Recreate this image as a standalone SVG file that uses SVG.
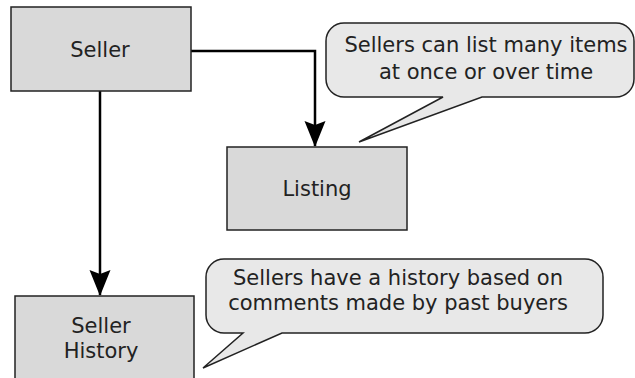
<svg xmlns="http://www.w3.org/2000/svg" width="635" height="378" viewBox="0 0 635 378">
<style>
.box{fill:#d9d9d9;stroke:#222;stroke-width:1.5}
.bubble{fill:#e8e8e8;stroke:#222;stroke-width:1.5;stroke-linejoin:miter}
.conn{fill:none;stroke:#000;stroke-width:2.5}
text{font-family:"DejaVu Sans",Verdana,sans-serif;font-size:21px;fill:#222;text-anchor:middle}
</style>
<defs>
<marker id="arr" viewBox="0 0 26 22" refX="25" refY="11" markerWidth="26" markerHeight="22" markerUnits="userSpaceOnUse" orient="auto">
<path d="M26,11 L0,0.5 L4,11 L0,21.5 Z" fill="#000"/>
</marker>
</defs>
<rect width="635" height="378" fill="#fff"/>
<g id="connectors">
<path class="conn" d="M191,51 H315 V146" marker-end="url(#arr)"/>
<path class="conn" d="M100,91 V295" marker-end="url(#arr)"/>
</g>
<g id="seller">
<rect class="box" x="11" y="7" width="180" height="84"/>
<text x="100" y="57">Seller</text>
</g>
<g id="listing">
<rect class="box" x="227" y="147" width="180" height="83"/>
<text x="317" y="196">Listing</text>
</g>
<g id="seller-history">
<rect class="box" x="15" y="296" width="179" height="90"/>
<text x="101" y="333">Seller</text>
<text x="101" y="358">History</text>
</g>
<g id="note-listing">
<path class="bubble" d="M344,23 H616 A18 18 0 0 1 634 41 V79 A18 18 0 0 1 616 97 H482 L359 142 L443 97 H344 A18 18 0 0 1 326 79 V41 A18 18 0 0 1 344 23 Z"/>
<text x="486" y="52">Sellers can list many items</text>
<text x="486" y="79">at once or over time</text>
</g>
<g id="note-history">
<path class="bubble" d="M224,259 H585 A18 18 0 0 1 603 277 V315 A18 18 0 0 1 585 333 H282 L203 368 L243 333 H224 A18 18 0 0 1 206 315 V277 A18 18 0 0 1 224 259 Z"/>
<text x="398" y="285">Sellers have a history based on</text>
<text x="398" y="310">comments made by past buyers</text>
</g>
</svg>
